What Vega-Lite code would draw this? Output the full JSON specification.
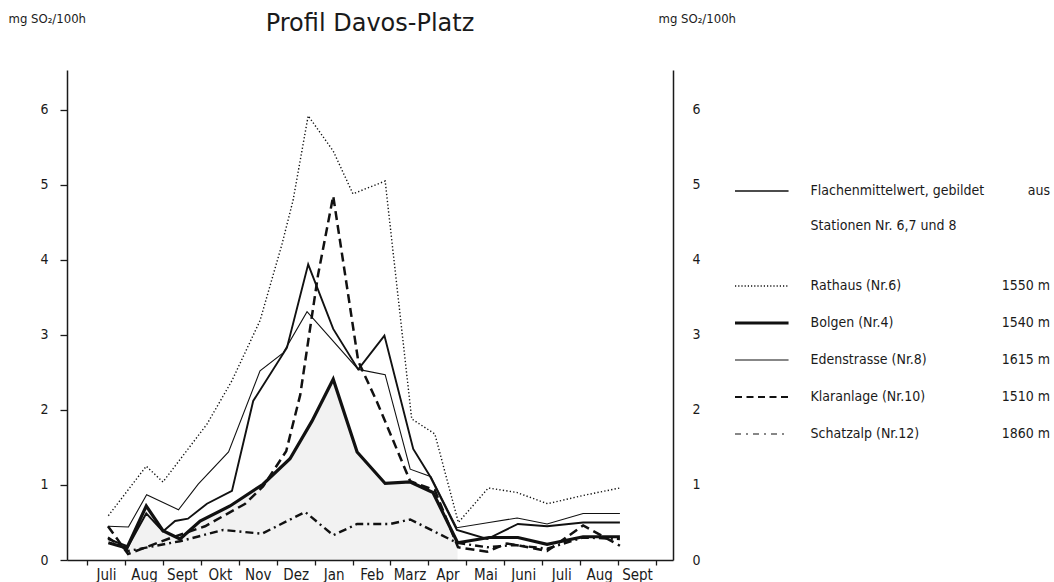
{
  "$schema": "https://vega.github.io/schema/vega-lite/v6.json",
  "background": "white",
  "padding": {"left": 8, "top": 12, "right": 4, "bottom": 0},
  "config": {
    "view": {"stroke": null},
    "font": "DejaVu Sans Condensed, Liberation Sans, sans-serif",
    "axis": {
      "grid": false,
      "domainColor": "#1a1a1a",
      "domainWidth": 1.5,
      "tickColor": "#1a1a1a",
      "tickWidth": 1.3,
      "labelColor": "#1a1a1a",
      "titleColor": "#1a1a1a",
      "labelFont": "DejaVu Sans Condensed, Liberation Sans, sans-serif",
      "titleFont": "DejaVu Sans Condensed, Liberation Sans, sans-serif",
      "labelFontSize": 14,
      "titleFontSize": 13,
      "titleFontWeight": "normal"
    }
  },
  "datasets": {
    "series": [
      {"s": "Rathaus", "m": 0.56, "v": 0.59},
      {"s": "Rathaus", "m": 1.56, "v": 1.25},
      {"s": "Rathaus", "m": 2.0, "v": 1.04},
      {"s": "Rathaus", "m": 3.16, "v": 1.81},
      {"s": "Rathaus", "m": 3.82, "v": 2.39},
      {"s": "Rathaus", "m": 4.56, "v": 3.19},
      {"s": "Rathaus", "m": 5.14, "v": 4.21},
      {"s": "Rathaus", "m": 5.43, "v": 4.79},
      {"s": "Rathaus", "m": 5.83, "v": 5.92},
      {"s": "Rathaus", "m": 6.49, "v": 5.45},
      {"s": "Rathaus", "m": 7.01, "v": 4.88},
      {"s": "Rathaus", "m": 7.86, "v": 5.05},
      {"s": "Rathaus", "m": 8.56, "v": 1.88},
      {"s": "Rathaus", "m": 9.17, "v": 1.68},
      {"s": "Rathaus", "m": 9.79, "v": 0.5},
      {"s": "Rathaus", "m": 10.58, "v": 0.96},
      {"s": "Rathaus", "m": 11.33, "v": 0.9},
      {"s": "Rathaus", "m": 12.14, "v": 0.75},
      {"s": "Rathaus", "m": 13.08, "v": 0.86},
      {"s": "Rathaus", "m": 14.05, "v": 0.96},

      {"s": "Eden", "m": 0.56, "v": 0.45},
      {"s": "Eden", "m": 1.09, "v": 0.44},
      {"s": "Eden", "m": 1.57, "v": 0.87},
      {"s": "Eden", "m": 2.41, "v": 0.67},
      {"s": "Eden", "m": 2.93, "v": 1.01},
      {"s": "Eden", "m": 3.73, "v": 1.44},
      {"s": "Eden", "m": 4.56, "v": 2.52},
      {"s": "Eden", "m": 5.17, "v": 2.76},
      {"s": "Eden", "m": 5.8, "v": 3.31},
      {"s": "Eden", "m": 7.15, "v": 2.54},
      {"s": "Eden", "m": 7.86, "v": 2.47},
      {"s": "Eden", "m": 8.52, "v": 1.21},
      {"s": "Eden", "m": 9.07, "v": 1.11},
      {"s": "Eden", "m": 9.75, "v": 0.43},
      {"s": "Eden", "m": 10.6, "v": 0.5},
      {"s": "Eden", "m": 11.34, "v": 0.56},
      {"s": "Eden", "m": 12.13, "v": 0.48},
      {"s": "Eden", "m": 13.08, "v": 0.62},
      {"s": "Eden", "m": 14.05, "v": 0.62},

      {"s": "Mittel", "m": 0.55, "v": 0.28},
      {"s": "Mittel", "m": 1.08, "v": 0.18},
      {"s": "Mittel", "m": 1.56, "v": 0.62},
      {"s": "Mittel", "m": 2.0, "v": 0.38},
      {"s": "Mittel", "m": 2.32, "v": 0.52},
      {"s": "Mittel", "m": 2.66, "v": 0.55},
      {"s": "Mittel", "m": 3.16, "v": 0.75},
      {"s": "Mittel", "m": 3.82, "v": 0.92},
      {"s": "Mittel", "m": 4.38, "v": 2.12},
      {"s": "Mittel", "m": 5.27, "v": 2.83},
      {"s": "Mittel", "m": 5.83, "v": 3.94},
      {"s": "Mittel", "m": 6.49, "v": 3.08},
      {"s": "Mittel", "m": 7.15, "v": 2.54},
      {"s": "Mittel", "m": 7.84, "v": 2.99},
      {"s": "Mittel", "m": 8.6, "v": 1.48},
      {"s": "Mittel", "m": 9.04, "v": 1.12},
      {"s": "Mittel", "m": 9.75, "v": 0.4},
      {"s": "Mittel", "m": 10.55, "v": 0.28},
      {"s": "Mittel", "m": 11.36, "v": 0.48},
      {"s": "Mittel", "m": 12.13, "v": 0.45},
      {"s": "Mittel", "m": 13.08, "v": 0.5},
      {"s": "Mittel", "m": 14.05, "v": 0.5},

      {"s": "Bolgen", "m": 0.56, "v": 0.23},
      {"s": "Bolgen", "m": 1.05, "v": 0.16},
      {"s": "Bolgen", "m": 1.56, "v": 0.72},
      {"s": "Bolgen", "m": 2.0, "v": 0.39},
      {"s": "Bolgen", "m": 2.45, "v": 0.28},
      {"s": "Bolgen", "m": 2.98, "v": 0.52},
      {"s": "Bolgen", "m": 3.77, "v": 0.72},
      {"s": "Bolgen", "m": 4.64, "v": 1.01},
      {"s": "Bolgen", "m": 5.35, "v": 1.35},
      {"s": "Bolgen", "m": 5.93, "v": 1.85},
      {"s": "Bolgen", "m": 6.49, "v": 2.41},
      {"s": "Bolgen", "m": 7.12, "v": 1.44},
      {"s": "Bolgen", "m": 7.86, "v": 1.02},
      {"s": "Bolgen", "m": 8.52, "v": 1.04},
      {"s": "Bolgen", "m": 9.12, "v": 0.9},
      {"s": "Bolgen", "m": 9.77, "v": 0.23},
      {"s": "Bolgen", "m": 10.6, "v": 0.3},
      {"s": "Bolgen", "m": 11.36, "v": 0.3},
      {"s": "Bolgen", "m": 12.13, "v": 0.21},
      {"s": "Bolgen", "m": 13.08, "v": 0.31},
      {"s": "Bolgen", "m": 14.05, "v": 0.31},

      {"s": "Klaranlage", "m": 0.55, "v": 0.45},
      {"s": "Klaranlage", "m": 1.08, "v": 0.08},
      {"s": "Klaranlage", "m": 2.24, "v": 0.3},
      {"s": "Klaranlage", "m": 3.11, "v": 0.45},
      {"s": "Klaranlage", "m": 4.17, "v": 0.75},
      {"s": "Klaranlage", "m": 4.64, "v": 0.98},
      {"s": "Klaranlage", "m": 5.25, "v": 1.45},
      {"s": "Klaranlage", "m": 5.62, "v": 2.2},
      {"s": "Klaranlage", "m": 6.09, "v": 3.8},
      {"s": "Klaranlage", "m": 6.49, "v": 4.85},
      {"s": "Klaranlage", "m": 7.15, "v": 2.65},
      {"s": "Klaranlage", "m": 7.65, "v": 2.1},
      {"s": "Klaranlage", "m": 8.52, "v": 1.05},
      {"s": "Klaranlage", "m": 9.17, "v": 0.93},
      {"s": "Klaranlage", "m": 9.78, "v": 0.17},
      {"s": "Klaranlage", "m": 10.55, "v": 0.11},
      {"s": "Klaranlage", "m": 11.07, "v": 0.22},
      {"s": "Klaranlage", "m": 11.42, "v": 0.19},
      {"s": "Klaranlage", "m": 12.13, "v": 0.12},
      {"s": "Klaranlage", "m": 13.08, "v": 0.46},
      {"s": "Klaranlage", "m": 14.05, "v": 0.19},

      {"s": "Schatzalp", "m": 0.55, "v": 0.3},
      {"s": "Schatzalp", "m": 1.08, "v": 0.12},
      {"s": "Schatzalp", "m": 2.45, "v": 0.25},
      {"s": "Schatzalp", "m": 3.59, "v": 0.4},
      {"s": "Schatzalp", "m": 4.61, "v": 0.35},
      {"s": "Schatzalp", "m": 5.75, "v": 0.64},
      {"s": "Schatzalp", "m": 6.49, "v": 0.33},
      {"s": "Schatzalp", "m": 7.12, "v": 0.48},
      {"s": "Schatzalp", "m": 7.99, "v": 0.48},
      {"s": "Schatzalp", "m": 8.52, "v": 0.54},
      {"s": "Schatzalp", "m": 9.75, "v": 0.23},
      {"s": "Schatzalp", "m": 10.55, "v": 0.17},
      {"s": "Schatzalp", "m": 11.28, "v": 0.2},
      {"s": "Schatzalp", "m": 12.13, "v": 0.15},
      {"s": "Schatzalp", "m": 13.08, "v": 0.3},
      {"s": "Schatzalp", "m": 14.05, "v": 0.28}
    ],
    "legend": [
      {"row": 0, "s": "Mittel", "label": "Flachenmittelwert, gebildet", "alt": "aus"},
      {"row": 1, "s": "", "label": "Stationen  Nr. 6,7  und  8", "alt": ""},
      {"row": 2, "s": "Rathaus", "label": "Rathaus (Nr.6)", "alt": "1550 m"},
      {"row": 3, "s": "Bolgen", "label": "Bolgen (Nr.4)", "alt": "1540 m"},
      {"row": 4, "s": "Eden", "label": "Edenstrasse  (Nr.8)", "alt": "1615 m"},
      {"row": 5, "s": "Klaranlage", "label": "Klaranlage  (Nr.10)", "alt": "1510 m"},
      {"row": 6, "s": "Schatzalp", "label": "Schatzalp  (Nr.12)", "alt": "1860 m"}
    ]
  },
  "spacing": 62,
  "bounds": "flush",
  "hconcat": [
    {
      "width": 606,
      "height": 490,
      "title": {
        "text": "Profil Davos-Platz",
        "anchor": "middle",
        "frame": "group",
        "font": "DejaVu Sans",
        "fontSize": 24,
        "fontWeight": "normal",
        "color": "#1a1a1a",
        "offset": -24
      },
      "data": {"name": "series"},
      "layer": [
        {
          "transform": [{"filter": "datum.s === 'Bolgen' && datum.m >= 1 && datum.m <= 9.8"}],
          "mark": {"type": "area", "color": "#000000", "opacity": 0.05},
          "encoding": {
            "x": {
              "field": "m",
              "type": "quantitative",
              "scale": {"domain": [-0.53, 15.45], "nice": false, "zero": false},
              "axis": {
                "values": [0, 1, 2, 3, 4, 5, 6, 7, 8, 9, 10, 11, 12, 13, 14, 15],
                "labelExpr": "datum.value < 15 ? ['Juli','Aug','Sept','Okt','Nov','Dez','Jan','Feb','Marz','Apr','Mai','Juni','Juli','Aug','Sept'][datum.value] : ''",
                "labelOffset": 19,
                "labelFlush": false,
                "labelOverlap": false,
                "labelFontSize": 15,
                "tickSize": 5,
                "labelPadding": 2,
                "title": null
              }
            },
            "y": {
              "field": "v",
              "type": "quantitative",
              "scale": {"domain": [0, 6.53], "nice": false},
              "axis": {
                "orient": "right",
                "values": [0, 1, 2, 3, 4, 5, 6],
                "ticks": false,
                "labelPadding": 19,
                "labelAlign": "left",
                "title": "mg SO₂/100h",
                "titleAngle": 0,
                "titleAlign": "left",
                "titleBaseline": "middle",
                "titleX": -15,
                "titleY": -52
              }
            }
          }
        },
        {
          "transform": [{"filter": "datum.s === 'Rathaus'"}],
          "mark": {"type": "line", "color": "#111111", "strokeWidth": 1.4, "strokeDash": [1.3, 2.2]},
          "encoding": {
            "x": {"field": "m", "type": "quantitative"},
            "y": {
              "field": "v",
              "type": "quantitative",
              "axis": {
                "orient": "left",
                "values": [0, 1, 2, 3, 4, 5, 6],
                "tickSize": 7,
                "labelPadding": 12,
                "title": "mg SO₂/100h",
                "titleAngle": 0,
                "titleAlign": "left",
                "titleBaseline": "middle",
                "titleX": -59,
                "titleY": -52
              }
            }
          }
        },
        {
          "transform": [{"filter": "datum.s === 'Eden'"}],
          "mark": {"type": "line", "color": "#111111", "strokeWidth": 1.1},
          "encoding": {
            "x": {"field": "m", "type": "quantitative"},
            "y": {"field": "v", "type": "quantitative", "axis": null}
          }
        },
        {
          "transform": [{"filter": "datum.s === 'Mittel'"}],
          "mark": {"type": "line", "color": "#111111", "strokeWidth": 1.9},
          "encoding": {
            "x": {"field": "m", "type": "quantitative"},
            "y": {"field": "v", "type": "quantitative", "axis": null}
          }
        },
        {
          "transform": [{"filter": "datum.s === 'Bolgen'"}],
          "mark": {"type": "line", "color": "#111111", "strokeWidth": 3.2},
          "encoding": {
            "x": {"field": "m", "type": "quantitative"},
            "y": {"field": "v", "type": "quantitative", "axis": null}
          }
        },
        {
          "transform": [{"filter": "datum.s === 'Klaranlage'"}],
          "mark": {"type": "line", "color": "#111111", "strokeWidth": 2.5, "strokeDash": [9, 5]},
          "encoding": {
            "x": {"field": "m", "type": "quantitative"},
            "y": {"field": "v", "type": "quantitative", "axis": null}
          }
        },
        {
          "transform": [{"filter": "datum.s === 'Schatzalp'"}],
          "mark": {"type": "line", "color": "#111111", "strokeWidth": 2.4, "strokeDash": [8, 4, 2, 4]},
          "encoding": {
            "x": {"field": "m", "type": "quantitative"},
            "y": {"field": "v", "type": "quantitative", "axis": null}
          }
        }
      ],
      "resolve": {"axis": {"y": "independent"}}
    },
    {
      "width": 315,
      "height": 490,
      "data": {"name": "legend"},
      "layer": [
        {
          "mark": {"type": "text", "align": "left", "baseline": "middle", "fontSize": 14, "color": "#1a1a1a"},
          "encoding": {
            "x": {"datum": 24, "type": "quantitative", "scale": {"domain": [0, 100], "nice": false}, "axis": null},
            "y": {"field": "row", "type": "quantitative", "scale": {"domain": [0, 1, 2, 6], "range": [121, 156, 216, 364]}, "axis": null},
            "text": {"field": "label"}
          }
        },
        {
          "mark": {"type": "text", "align": "right", "baseline": "middle", "fontSize": 14, "color": "#1a1a1a"},
          "encoding": {
            "x": {"datum": 100, "type": "quantitative"},
            "y": {"field": "row", "type": "quantitative"},
            "text": {"field": "alt"}
          }
        },
        {
          "transform": [{"filter": "datum.s === 'Mittel'"}],
          "mark": {"type": "rule", "color": "#111111", "strokeWidth": 1.6},
          "encoding": {
            "x": {"datum": 0, "type": "quantitative"},
            "x2": {"datum": 17},
            "y": {"field": "row", "type": "quantitative"}
          }
        },
        {
          "transform": [{"filter": "datum.s === 'Rathaus'"}],
          "mark": {"type": "rule", "color": "#111111", "strokeWidth": 1.3, "strokeDash": [1.2, 2]},
          "encoding": {
            "x": {"datum": 0, "type": "quantitative"},
            "x2": {"datum": 17},
            "y": {"field": "row", "type": "quantitative"}
          }
        },
        {
          "transform": [{"filter": "datum.s === 'Bolgen'"}],
          "mark": {"type": "rule", "color": "#111111", "strokeWidth": 3},
          "encoding": {
            "x": {"datum": 0, "type": "quantitative"},
            "x2": {"datum": 17},
            "y": {"field": "row", "type": "quantitative"}
          }
        },
        {
          "transform": [{"filter": "datum.s === 'Eden'"}],
          "mark": {"type": "rule", "color": "#111111", "strokeWidth": 1.1},
          "encoding": {
            "x": {"datum": 0, "type": "quantitative"},
            "x2": {"datum": 17},
            "y": {"field": "row", "type": "quantitative"}
          }
        },
        {
          "transform": [{"filter": "datum.s === 'Klaranlage'"}],
          "mark": {"type": "rule", "color": "#111111", "strokeWidth": 1.8, "strokeDash": [7, 4.5]},
          "encoding": {
            "x": {"datum": 0, "type": "quantitative"},
            "x2": {"datum": 17},
            "y": {"field": "row", "type": "quantitative"}
          }
        },
        {
          "transform": [{"filter": "datum.s === 'Schatzalp'"}],
          "mark": {"type": "rule", "color": "#111111", "strokeWidth": 1.2, "strokeDash": [6, 5, 2, 5]},
          "encoding": {
            "x": {"datum": 0, "type": "quantitative"},
            "x2": {"datum": 17},
            "y": {"field": "row", "type": "quantitative"}
          }
        }
      ]
    }
  ]
}
